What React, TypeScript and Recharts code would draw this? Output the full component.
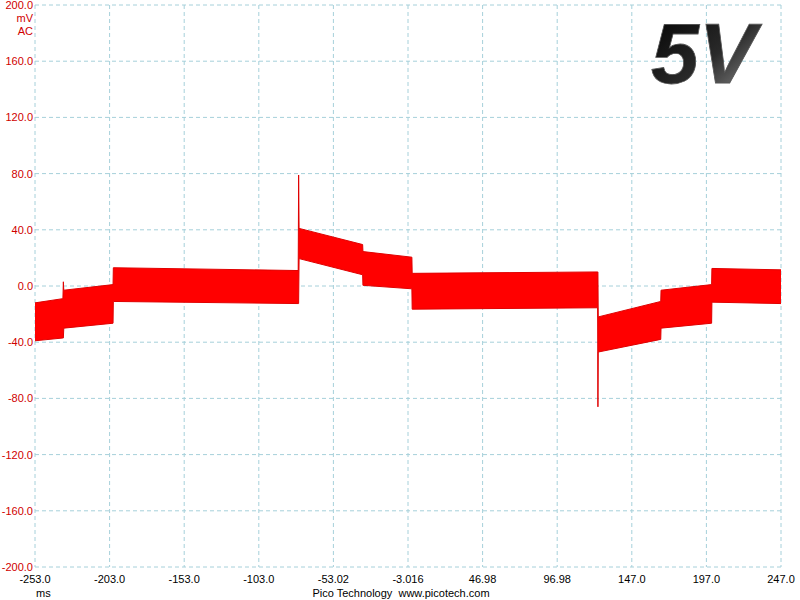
import { ComposedChart, Area, XAxis, YAxis, CartesianGrid } from 'recharts';

// band envelope (ms, mV)
const times = [
  -253, -234.3, -234.0, -233.7, -200.7, -200.5, -76.6, -76.3, -76.0, -33.4, -33.2, -0.4,
  -0.2, 124.1, 124.3, 124.5, 166.4, 166.6, 200.5, 200.7, 247,
];
const lows = [
  -39, -37, -37, -30, -26.5, -11, -12.5, -12.5, 19.5, 8, 0.5, -2,
  -16.5, -15.5, -86, -47, -38, -30, -26.5, -11.5, -12.5,
];
const highs = [
  -12, -9, 3, -3, 1, 13, 11, 79, 41, 29.5, 24.5, 20.5,
  9, 10, 10, -22, -11, -3, 1, 12.5, 11.5,
];

const xTicks = [-253, -203, -153, -103, -53, -3, 47, 97, 147, 197, 247];
const xTickLabels = ['-253.0', '-203.0', '-153.0', '-103.0', '-53.02', '-3.016', '46.98', '96.98', '147.0', '197.0', '247.0'];
const yTicks = [-200, -160, -120, -80, -40, 0, 40, 80, 120, 160, 200];

const data = times.map((t, i) => ({ t, band: [lows[i], highs[i]] }));

const FONT = '"Liberation Sans", Arial, sans-serif';
const GRID = '#a6d0da';
const AXIS_RED = '#d00000';

export default function App() {
  return (
    <div style={{ position: 'absolute', left: 0, top: 0, width: 800, height: 600, background: '#fff', fontFamily: FONT }}>
      <ComposedChart width={800} height={600} data={data} margin={{ top: 5, right: 19, left: 0, bottom: 0 }}>
        <CartesianGrid stroke={GRID} strokeDasharray="4 3" />
        <XAxis
          dataKey="t"
          type="number"
          domain={[-253, 247]}
          ticks={xTicks}
          tickFormatter={(v: number) => xTickLabels[xTicks.indexOf(v)] ?? ''}
          axisLine={false}
          tickLine={false}
          height={33}
          interval={0}
          tick={{ fill: '#000', fontSize: 11, fontFamily: FONT }}
        />
        <YAxis
          type="number"
          domain={[-200, 200]}
          ticks={yTicks}
          tickFormatter={(v: number) => v.toFixed(1)}
          axisLine={false}
          tickLine={false}
          tickSize={0}
          tickMargin={2}
          width={35}
          interval={0}
          tick={{ fill: AXIS_RED, fontSize: 11, fontFamily: FONT }}
        />
        <Area
          type="linear"
          dataKey="band"
          stroke="#e00000"
          strokeWidth={1}
          fill="#ff0000"
          fillOpacity={1}
          isAnimationActive={false}
          dot={false}
          activeDot={false}
        />
      </ComposedChart>

      <div style={{ position: 'absolute', right: 800 - 33, top: 12, color: AXIS_RED, fontSize: 11, lineHeight: '13px', textAlign: 'right' }}>
        mV<br />AC
      </div>
      <div style={{ position: 'absolute', left: 36, top: 587, fontSize: 11 }}>ms</div>
      <div style={{ position: 'absolute', left: 0, width: 802, top: 587, fontSize: 11, textAlign: 'center', whiteSpace: 'pre' }}>
        {'Pico Technology  www.picotech.com'}
      </div>

      <svg style={{ position: 'absolute', left: 0, top: 0 }} width={800} height={600}>
        <defs>
          <linearGradient id="vgrad" x1="0" y1="0" x2="1" y2="1">
            <stop offset="0%" stopColor="#000" />
            <stop offset="55%" stopColor="#2a2a2a" />
            <stop offset="100%" stopColor="#9a9a9a" />
          </linearGradient>
        </defs>
        <text
          x={651}
          y={83}
          fontFamily={FONT}
          fontSize={86}
          fontWeight="bold"
          fontStyle="italic"
          fill="url(#vgrad)"
          stroke="#555"
          strokeWidth={0.8}
        >
          5V
        </text>
      </svg>
    </div>
  );
}
